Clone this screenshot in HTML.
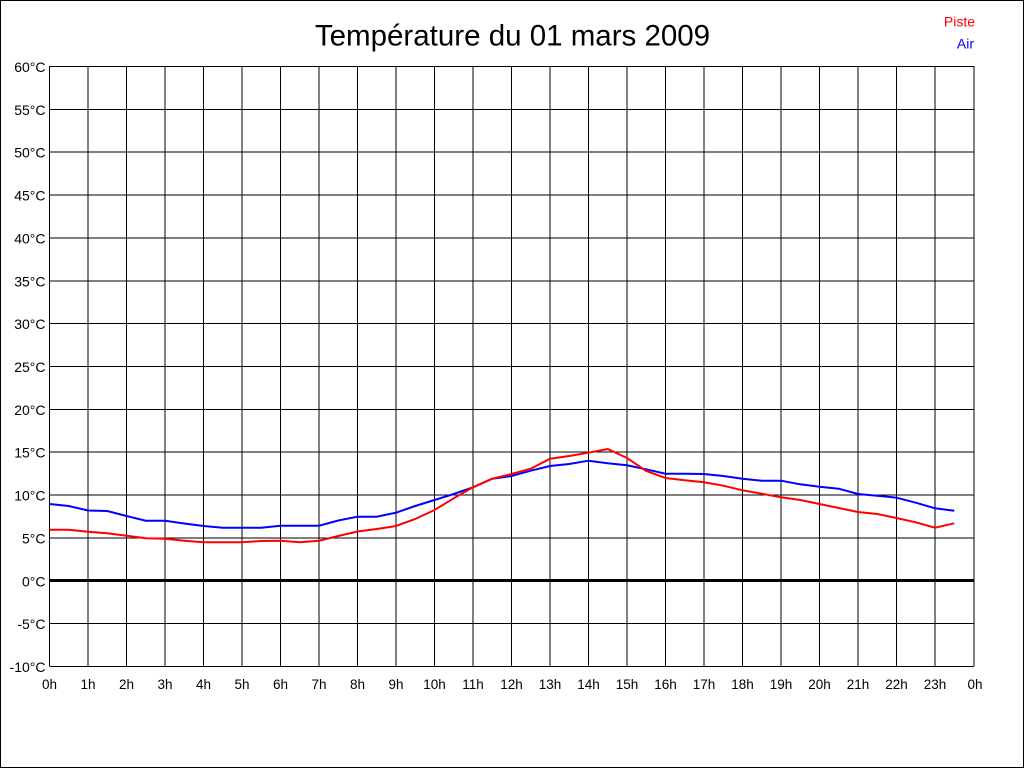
<!DOCTYPE html>
<html><head><meta charset="utf-8"><style>
html,body{margin:0;padding:0;background:#fff;}
svg{display:block;}
text{font-family:"Liberation Sans",Arial,sans-serif;}
</style></head><body>
<svg width="1024" height="768" viewBox="0 0 1024 768" xmlns="http://www.w3.org/2000/svg">
<rect x="0.5" y="0.5" width="1023" height="767" fill="#fff" stroke="#000" stroke-width="1"/>
<text x="512.5" y="45.7" font-size="29.5" text-anchor="middle" fill="#000">Température du 01 mars 2009</text>
<text x="975" y="26.5" font-size="14" text-anchor="end" fill="#ff0000">Piste</text>
<text x="974" y="48.5" font-size="14" text-anchor="end" fill="#0000ff">Air</text>
<g stroke="#000" stroke-width="1" shape-rendering="crispEdges" fill="none">
<line x1="49.5" y1="66" x2="49.5" y2="666"/>
<line x1="88" y1="66" x2="88" y2="666"/>
<line x1="126.5" y1="66" x2="126.5" y2="666"/>
<line x1="165" y1="66" x2="165" y2="666"/>
<line x1="203.5" y1="66" x2="203.5" y2="666"/>
<line x1="242" y1="66" x2="242" y2="666"/>
<line x1="280.5" y1="66" x2="280.5" y2="666"/>
<line x1="319" y1="66" x2="319" y2="666"/>
<line x1="357.5" y1="66" x2="357.5" y2="666"/>
<line x1="396" y1="66" x2="396" y2="666"/>
<line x1="434.5" y1="66" x2="434.5" y2="666"/>
<line x1="473" y1="66" x2="473" y2="666"/>
<line x1="511.5" y1="66" x2="511.5" y2="666"/>
<line x1="550" y1="66" x2="550" y2="666"/>
<line x1="588.5" y1="66" x2="588.5" y2="666"/>
<line x1="627" y1="66" x2="627" y2="666"/>
<line x1="665.5" y1="66" x2="665.5" y2="666"/>
<line x1="704" y1="66" x2="704" y2="666"/>
<line x1="742.5" y1="66" x2="742.5" y2="666"/>
<line x1="781" y1="66" x2="781" y2="666"/>
<line x1="819.5" y1="66" x2="819.5" y2="666"/>
<line x1="858" y1="66" x2="858" y2="666"/>
<line x1="896.5" y1="66" x2="896.5" y2="666"/>
<line x1="935" y1="66" x2="935" y2="666"/>
<line x1="974" y1="66" x2="974" y2="666"/>
<line x1="49.5" y1="66.5" x2="974" y2="66.5"/>
<line x1="49.5" y1="109.4" x2="974" y2="109.4"/>
<line x1="49.5" y1="152.2" x2="974" y2="152.2"/>
<line x1="49.5" y1="195.1" x2="974" y2="195.1"/>
<line x1="49.5" y1="237.9" x2="974" y2="237.9"/>
<line x1="49.5" y1="280.8" x2="974" y2="280.8"/>
<line x1="49.5" y1="323.6" x2="974" y2="323.6"/>
<line x1="49.5" y1="366.5" x2="974" y2="366.5"/>
<line x1="49.5" y1="409.4" x2="974" y2="409.4"/>
<line x1="49.5" y1="452.2" x2="974" y2="452.2"/>
<line x1="49.5" y1="495.1" x2="974" y2="495.1"/>
<line x1="49.5" y1="537.9" x2="974" y2="537.9"/>
<line x1="49.5" y1="623.6" x2="974" y2="623.6"/>
<line x1="49.5" y1="666.5" x2="974" y2="666.5"/>
</g>
<line x1="49.5" y1="580.5" x2="974" y2="580.5" stroke="#000" stroke-width="3"/>
<g font-size="14" text-anchor="end" fill="#000">
<text x="45.5" y="72">60°C</text>
<text x="45.5" y="114.9">55°C</text>
<text x="45.5" y="157.7">50°C</text>
<text x="45.5" y="200.6">45°C</text>
<text x="45.5" y="243.4">40°C</text>
<text x="45.5" y="286.3">35°C</text>
<text x="45.5" y="329.1">30°C</text>
<text x="45.5" y="372">25°C</text>
<text x="45.5" y="414.9">20°C</text>
<text x="45.5" y="457.7">15°C</text>
<text x="45.5" y="500.6">10°C</text>
<text x="45.5" y="543.4">5°C</text>
<text x="45.5" y="586.3">0°C</text>
<text x="45.5" y="629.1">-5°C</text>
<text x="45.5" y="672">-10°C</text>
</g>
<g font-size="13.5" text-anchor="middle" fill="#000">
<text x="49.5" y="689">0h</text>
<text x="88" y="689">1h</text>
<text x="126.5" y="689">2h</text>
<text x="165" y="689">3h</text>
<text x="203.5" y="689">4h</text>
<text x="242" y="689">5h</text>
<text x="280.5" y="689">6h</text>
<text x="319" y="689">7h</text>
<text x="357.5" y="689">8h</text>
<text x="396" y="689">9h</text>
<text x="434.5" y="689">10h</text>
<text x="473" y="689">11h</text>
<text x="511.5" y="689">12h</text>
<text x="550" y="689">13h</text>
<text x="588.5" y="689">14h</text>
<text x="627" y="689">15h</text>
<text x="665.5" y="689">16h</text>
<text x="704" y="689">17h</text>
<text x="742.5" y="689">18h</text>
<text x="781" y="689">19h</text>
<text x="819.5" y="689">20h</text>
<text x="858" y="689">21h</text>
<text x="896.5" y="689">22h</text>
<text x="935" y="689">23h</text>
<text x="975" y="689">0h</text>
</g>
<polyline fill="none" stroke="#0000ff" stroke-width="2" points="49.5,504 68.75,506 88,510.5 107.25,511 126.5,516 145.75,520.7 165,520.7 184.25,523.5 203.5,526 222.75,527.7 242,527.7 261.25,527.7 280.5,525.7 299.75,525.7 319,525.7 338.25,520.5 357.5,516.7 376.75,516.7 396,512.7 415.25,506 434.5,500 453.75,494 473,487.3 492.25,478.7 511.5,476 530.75,470.7 550,466 569.25,464 588.5,460.7 607.75,463.3 627,465.3 646.25,469.3 665.5,473.7 684.75,473.7 704,474 723.25,476 742.5,478.7 761.75,480.7 781,480.7 800.25,484.3 819.5,486.7 838.75,488.7 858,494 877.25,495.7 896.5,497.7 915.75,502.7 935,508.3 954.25,510.7"/>
<polyline fill="none" stroke="#ff0000" stroke-width="2" points="49.5,529.7 68.75,529.7 88,531.7 107.25,533.3 126.5,535.7 145.75,538.3 165,538.7 184.25,540.7 203.5,542.3 222.75,542.3 242,542.3 261.25,541 280.5,540.7 299.75,542.3 319,540.7 338.25,536 357.5,531.5 376.75,529 396,526 415.25,519 434.5,510 453.75,498.3 473,487.3 492.25,478.7 511.5,474 530.75,468.7 550,458.7 569.25,456 588.5,452.7 607.75,449 627,458 646.25,471 665.5,478 684.75,480.3 704,482.3 723.25,485.7 742.5,490.3 761.75,493.7 781,497.3 800.25,500 819.5,504 838.75,508 858,512 877.25,514 896.5,518 915.75,522.3 935,527.7 954.25,523.3"/>
</svg>
</body></html>
